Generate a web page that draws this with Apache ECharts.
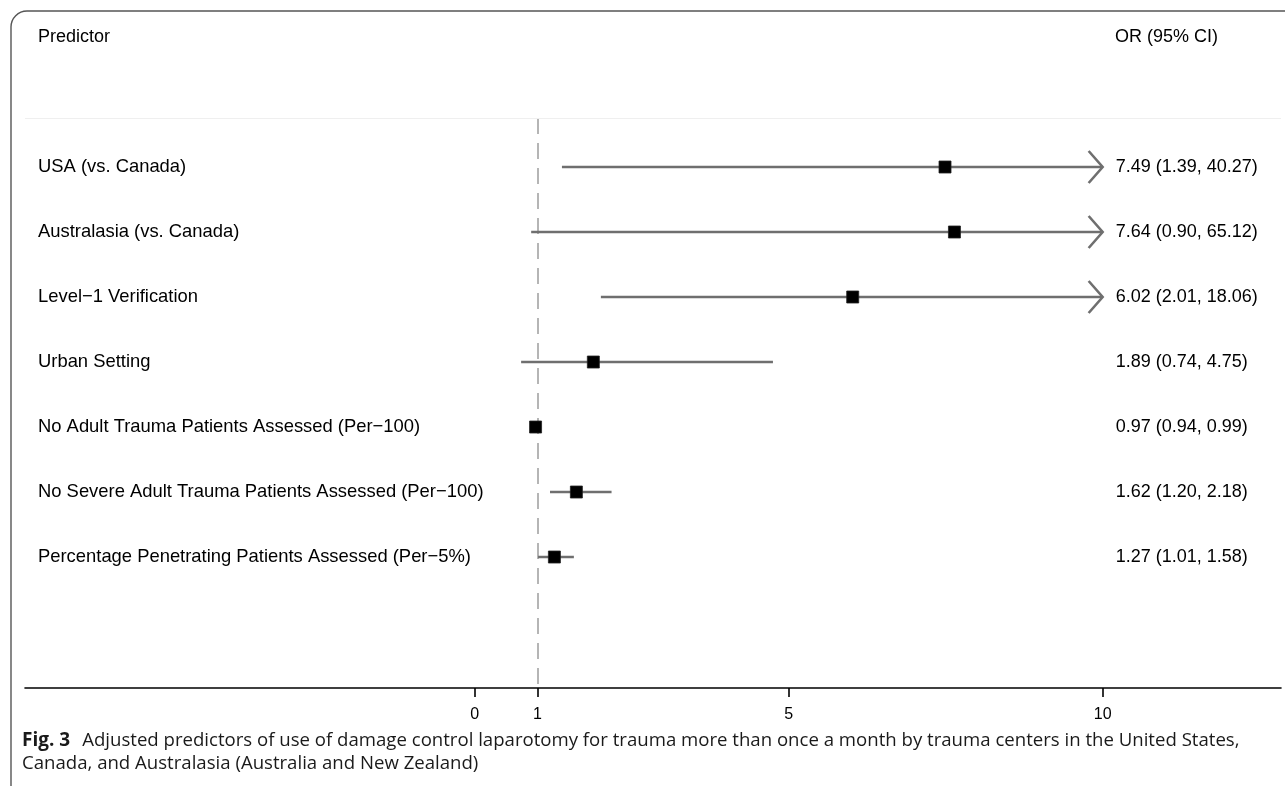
<!DOCTYPE html>
<html>
<head>
<meta charset="utf-8">
<title>Forest plot: predictors of damage control laparotomy use</title>
<script src="https://cdn.jsdelivr.net/npm/echarts@6/dist/echarts.min.js"></script>
<style>
  html, body { margin: 0; padding: 0; background: #fff; }
  #chart { width: 1285px; height: 786px; }
</style>
</head>
<body>
<div id="chart"></div>
<script>
// Predictors and adjusted odds ratios with 95% confidence limits
const predictors = [
  'USA (vs. Canada)',
  'Australasia (vs. Canada)',
  'Level\u22121 Verification',
  'Urban Setting',
  'No Adult Trauma Patients Assessed (Per\u2212100)',
  'No Severe Adult Trauma Patients Assessed (Per\u2212100)',
  'Percentage Penetrating Patients Assessed (Per\u22125%)'
];
const oddsRatios = [7.49, 7.64, 6.02, 1.89, 0.97, 1.62, 1.27];
const lowerCI   = [1.39, 0.90, 2.01, 0.74, 0.94, 1.20, 1.01];
const upperCI   = [40.27, 65.12, 18.06, 4.75, 0.99, 2.18, 1.58];
const xTicks    = [0, 1, 5, 10];
const nullValue = 1;         // reference line of no effect

const axisCap = 10;          // intervals beyond this are drawn with an arrow
const xMin = -7.16, xMax = 12.84;
const yMin = -0.754, yMax = 8.015;

const labelFont = 'Liberation Sans, Arial, Helvetica, sans-serif';
const captionFont = 'Open Sans, Noto Sans, sans-serif';
const ciColor = '#6f6f6f';

const rows = predictors.map((name, i) => [i, oddsRatios[i], lowerCI[i], upperCI[i]]);

function fmt(v) { return v.toFixed(2); }

const chart = echarts.init(document.getElementById('chart'), null, { renderer: 'canvas' });

chart.setOption({
  animation: false,
  backgroundColor: '#ffffff',
  grid: { left: 25, right: 4, top: 118, bottom: 98, containLabel: false },
  xAxis: {
    type: 'value',
    min: xMin,
    max: xMax,
    splitLine: { show: false },
    axisLine: { show: true, onZero: false, lineStyle: { color: '#000', width: 1.6 } },
    axisTick: { show: true, customValues: xTicks, length: 9, lineStyle: { color: '#000', width: 1.6 } },
    axisLabel: {
      show: true, customValues: xTicks, margin: 19,
      color: '#000', fontSize: 16, fontFamily: labelFont
    }
  },
  yAxis: {
    type: 'value',
    min: yMin,
    max: yMax,
    inverse: true,
    show: false,
    splitLine: { show: false }
  },
  series: [
    {
      // dashed line of no effect, drawn beneath the estimates
      type: 'line',
      z: 1,
      data: [],
      markLine: {
        silent: true,
        symbol: 'none',
        label: { show: false },
        data: [
          { xAxis: nullValue, lineStyle: { color: '#b5b5b5', width: 2, type: [16, 9] } },
          { yAxis: yMin, lineStyle: { color: '#efefef', width: 1, type: 'solid' } }
        ]
      }
    },
    {
      type: 'custom',
      z: 5,
      clip: false,
      data: rows,
      renderItem: function (params, api) {
        const row = api.value(0);
        const or = api.value(1);
        const lo = api.value(2);
        const hi = api.value(3);
        const end = Math.min(hi, axisCap);
        const pLo = api.coord([lo, row]);
        const pHi = api.coord([end, row]);
        const pOr = api.coord([or, row]);
        const cs = params.coordSys;
        const children = [];

        children.push({
          type: 'line',
          shape: { x1: pLo[0], y1: pLo[1], x2: pHi[0], y2: pHi[1] },
          style: { stroke: ciColor, lineWidth: 2.6 }
        });
        if (hi > axisCap) {
          children.push({
            type: 'polyline',
            shape: { points: [[pHi[0] - 14, pHi[1] - 16], [pHi[0], pHi[1]], [pHi[0] - 14, pHi[1] + 16]] },
            style: { stroke: ciColor, lineWidth: 2.6, fill: null }
          });
        }
        const s = 12;
        children.push({
          type: 'rect',
          shape: { x: pOr[0] - s / 2, y: pOr[1] - s / 2, width: s, height: s },
          style: { fill: '#000', stroke: '#222', lineWidth: 0.8 }
        });
        // predictor name on the left
        children.push({
          type: 'text',
          x: cs.x + 13,
          y: pOr[1],
          style: {
            text: predictors[params.dataIndex],
            fill: '#000', font: '18.4px ' + labelFont,
            textAlign: 'left', textVerticalAlign: 'middle'
          }
        });
        // estimate and interval on the right
        children.push({
          type: 'text',
          x: api.coord([axisCap, row])[0] + 13,
          y: pOr[1],
          style: {
            text: fmt(or) + ' (' + fmt(lo) + ', ' + fmt(hi) + ')',
            fill: '#000', font: '18px ' + labelFont,
            textAlign: 'left', textVerticalAlign: 'middle'
          }
        });
        return { type: 'group', children: children };
      }
    }
  ],
  graphic: [
    // panel frame: left and top edges with a rounded corner
    {
      type: 'polyline',
      shape: { points: [[11, 786], [11, 27]] },
      style: { stroke: '#555', lineWidth: 1.4, fill: null }
    },
    {
      type: 'arc',
      shape: { cx: 27, cy: 27, r: 16, startAngle: Math.PI, endAngle: Math.PI * 1.5 },
      style: { stroke: '#555', lineWidth: 1.4, fill: null }
    },
    {
      type: 'polyline',
      shape: { points: [[27, 11], [1285, 11]] },
      style: { stroke: '#555', lineWidth: 1.4, fill: null }
    },
    {
      type: 'text', x: 38, y: 37,
      style: { text: 'Predictor', fill: '#000', font: '18px ' + labelFont, textVerticalAlign: 'middle' }
    },
    {
      type: 'text', x: 1115, y: 37,
      style: { text: 'OR (95% CI)', fill: '#000', font: '18px ' + labelFont, textVerticalAlign: 'middle' }
    },
    {
      type: 'text', x: 22, y: 741,
      style: {
        text: '{b|Fig. 3}{g|}{n|Adjusted predictors of use of damage control laparotomy for trauma more than once a month by trauma centers in the United States,}',
        textVerticalAlign: 'middle',
        rich: {
          b: { fontFamily: captionFont, fontWeight: 'bold', fontSize: 19, fill: '#1a1a1a' },
          g: { width: 12 },
          n: { fontFamily: captionFont, fontSize: 18.6, fill: '#1a1a1a' }
        }
      }
    },
    {
      type: 'text', x: 22, y: 764,
      style: {
        text: 'Canada, and Australasia (Australia and New Zealand)',
        fill: '#1a1a1a', font: '18.6px ' + captionFont, textVerticalAlign: 'middle'
      }
    }
  ]
});
</script>
</body>
</html>
